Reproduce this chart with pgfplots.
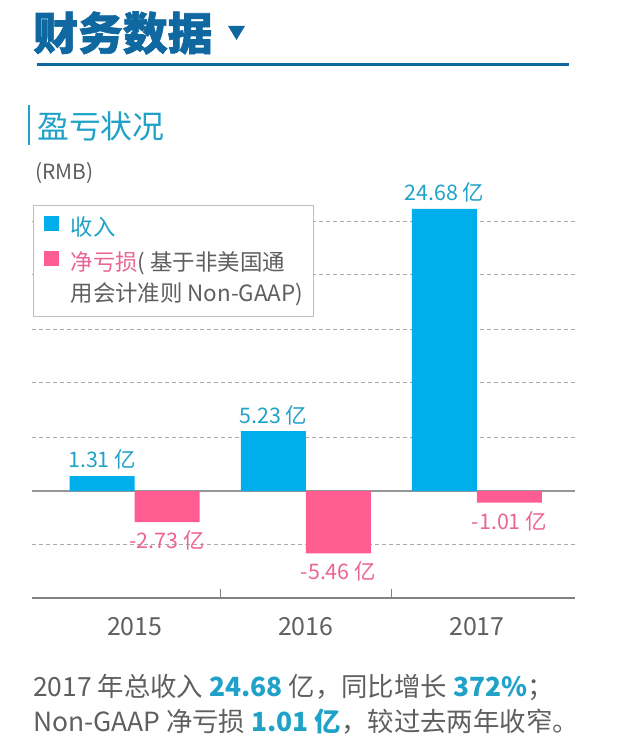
\documentclass[border=0pt]{standalone}
\usepackage{fontspec}
\setmainfont{Noto Sans CJK SC}
\newfontfamily\titlefont{Noto Sans CJK SC}[BoldFeatures={FakeBold=1.5}]
\usepackage{pgfplots}
\pgfplotsset{compat=1.18}
\definecolor{ctitle}{RGB}{16,104,160}
\definecolor{cteal}{RGB}{32,162,200}
\definecolor{cblue}{RGB}{0,174,236}
\definecolor{cpink}{RGB}{255,92,146}
\definecolor{cpinktext}{RGB}{236,100,150}
\definecolor{cgraytext}{RGB}{95,95,95}
\definecolor{cgrid}{RGB}{170,170,170}
\definecolor{czero}{RGB}{150,150,150}
\definecolor{caxis}{RGB}{130,130,130}
\definecolor{clegend}{RGB}{190,190,190}
\begin{document}
\begin{tikzpicture}[x=1bp,y=1bp]
\path[use as bounding box] (0,0) rectangle (624,749);
% header
\node[anchor=west, font=\fontsize{45}{50}\selectfont\titlefont\bfseries, text=ctitle, inner sep=0] at (33,716) {财务数据};
\fill[ctitle] (228,723) -- (245,723) -- (236.5,709) -- cycle;
\draw[ctitle, line width=3bp] (37,684) -- (569,684);
\draw[cteal, line width=2.5bp] (29,644) -- (29,604);
\node[anchor=west, font=\fontsize{32}{36}\selectfont, text=cteal, inner sep=0] at (37,623) {盈亏状况};
\node[anchor=west, font=\fontsize{21}{24}\selectfont, text=cgraytext, inner sep=0] at (35,576) {(RMB)};
\begin{axis}[
  at={(32bp,151bp)}, anchor=south west,
  width=543bp, height=398bp, scale only axis,
  xmin=-0.60, xmax=2.573, ymin=-9.36, ymax=25.46,
  ybar, bar width=0.38,
  axis x line*=bottom, axis y line*=left,
  y axis line style={draw=none},
  x axis line style={draw=caxis, line width=1.3bp, -},
  ytick={-4.72,4.72,9.45,14.17,18.9,23.62},
  yticklabels={},
  ytick style={draw=none},
  ymajorgrids,
  grid style={draw=cgrid, line width=1bp, dash pattern=on 4bp off 3bp},
  extra y ticks={0},
  extra y tick labels={},
  extra y tick style={grid style={solid, draw=czero, line width=1.3bp}, ytick style={draw=none}},
  xtick={0,1,2}, xticklabels={2015,2016,2017},
  minor xtick={0.5,1.5},
  major tick length=0pt, minor tick length=9bp,
  tick align=inside,
  xtick style={draw=caxis, line width=1bp},
  minor x tick style={draw=caxis, line width=1bp},
  xticklabel style={font=\fontsize{25}{30}\selectfont, text=cgraytext, yshift=-16bp},
  /pgf/number format/assume math mode=true,
  legend cell align=left,
  legend style={at={(0.002,0.987)}, anchor=north west, draw=clegend, line width=1bp, fill=white,
    font=\fontsize{22.5}{26}\selectfont, text=cgraytext,
    inner xsep=10bp, inner ysep=10bp, column sep=12bp, row sep=10.5bp,
    nodes={inner sep=0bp, text height=16bp, text depth=5bp}},
]
\addplot[fill=cblue, draw=none, bar shift=-0.19,
  nodes near coords, point meta=explicit symbolic,
  nodes near coords style={font=\fontsize{21.5}{25}\selectfont, text=cteal, anchor=south, yshift=3bp},
  legend image code/.code={\fill[cblue] (0bp,-1bp) rectangle (15bp,14bp);}]
  coordinates {(0,1.31) [1.31 亿] (1,5.23) [5.23 亿] (2,24.68) [24.68 亿]};
\addlegendentry{\textcolor{cteal}{收入}}
\addplot[fill=cpink, draw=none, bar shift=0.19,
  nodes near coords, point meta=explicit symbolic,
  nodes near coords style={font=\fontsize{21.5}{25}\selectfont, text=cpinktext, anchor=north, yshift=-5bp},
  legend image code/.code={\fill[cpink] (0bp,-1bp) rectangle (15bp,14bp);}]
  coordinates {(0,-2.73) [-2.73 亿] (1,-5.46) [-5.46 亿] (2,-1.01) [-1.01 亿]};
\addlegendentry{\textcolor{cpinktext}{净亏损}( 基于非美国通}
\addlegendimage{empty legend}
\addlegendentry{用会计准则 Non-GAAP)}
\end{axis}
% footer
\node[anchor=west, font=\fontsize{26.5}{30}\selectfont, text=cgraytext, inner sep=0] at (33,62)
  {2017 年总收入 \textbf{\textcolor{cteal}{24.68}} 亿，同比增长 \textbf{\textcolor{cteal}{372\%}}；};
\node[anchor=west, font=\fontsize{26.5}{30}\selectfont, text=cgraytext, inner sep=0] at (33,27)
  {Non-GAAP 净亏损 \textbf{\textcolor{cteal}{1.01 亿}}，较过去两年收窄。};
\end{tikzpicture}
\end{document}
